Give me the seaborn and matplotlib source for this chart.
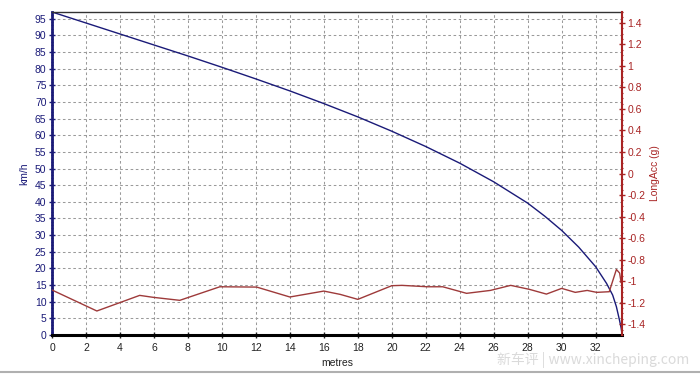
import matplotlib
matplotlib.use("Agg")
import matplotlib.pyplot as plt
import seaborn as sns
from matplotlib.ticker import MultipleLocator, FormatStrFormatter
from matplotlib.lines import Line2D

# Speed trace (km/h) vs distance (m)
dist_speed = [0, 2, 4, 6, 8, 10, 12, 14, 16, 18, 20, 22, 24, 26, 28, 29, 30, 31,
              32, 32.64, 33.0, 33.22, 33.4, 33.5, 33.55]
speed_kmh = [97.0, 93.7, 90.4, 87.1, 83.8, 80.4, 76.9, 73.3, 69.5, 65.5, 61.2, 56.6,
             51.6, 46.0, 39.6, 35.7, 31.4, 26.4, 20.5, 15.5, 12.0, 8.5, 4.5, 2.1, 0.3]

# Longitudinal acceleration (g) vs distance (m)
dist_acc = [0, 2.64, 3.98, 5.16, 5.95, 7.52, 9.88, 12.05, 14.0, 16.0, 16.97, 18.0,
            20.0, 20.6, 22.1, 23.0, 24.4, 25.8, 27.0, 28.1, 29.1, 30.0, 30.8, 31.5,
            32.06, 32.8, 33.22, 33.41, 33.5, 33.54, 33.55, 33.55, 33.55]
acc_g = [-1.082, -1.277, -1.200, -1.132, -1.150, -1.178, -1.052, -1.055, -1.147,
         -1.092, -1.123, -1.169, -1.042, -1.039, -1.052, -1.052, -1.113, -1.086,
         -1.039, -1.076, -1.120, -1.067, -1.104, -1.086, -1.104, -1.098, -0.891,
         -0.925, -1.014, -1.0, -0.55, -0.98, -0.62]

sns.set_style("white")
plt.rcParams['font.family'] = ['Liberation Sans', 'DejaVu Sans']
plt.rcParams['axes.unicode_minus'] = False

navy = "#1a1a78"
darkred = "#a82424"
accred = "#9e3a3a"

fig = plt.figure(figsize=(7, 3.76), dpi=100)
ax = fig.add_axes([52 / 700, 1 - 335 / 376, 570 / 700, 323 / 376])
ax2 = ax.twinx()

sns.lineplot(x=dist_speed, y=speed_kmh, ax=ax, color=navy, linewidth=1.0,
             estimator=None, sort=False)
sns.lineplot(x=dist_acc, y=acc_g, ax=ax2, color=accred, linewidth=1.0,
             estimator=None, sort=False)

ax.set_xlim(0, 33.55)
ax.set_ylim(0, 97)
ax2.set_ylim(-1.5, 1.5)

ax.xaxis.set_major_locator(MultipleLocator(2))
ax.xaxis.set_minor_locator(MultipleLocator(0.5))
ax.yaxis.set_major_locator(MultipleLocator(5))
ax.yaxis.set_minor_locator(MultipleLocator(1))
ax2.yaxis.set_major_locator(MultipleLocator(0.2))
ax2.yaxis.set_minor_locator(MultipleLocator(0.05))
ax2.yaxis.set_major_formatter(FormatStrFormatter('%g'))

ax.grid(True, which='major', color='#9a9a9a', linestyle=(0, (2.5, 2.5)), linewidth=0.75)
ax2.grid(False)

ax.tick_params(axis='y', which='major', colors=navy, labelsize=7.5, length=4,
               width=1, direction='inout', pad=2)
ax.tick_params(axis='y', which='minor', colors=navy, length=2, width=0.8,
               direction='inout', left=True)
ax.tick_params(axis='x', which='major', colors='#222222', labelsize=7.5, length=4,
               width=1, direction='inout', pad=4, bottom=True)
ax.tick_params(axis='x', which='minor', colors='#222222', length=2, width=0.8,
               direction='inout', bottom=True)
ax2.tick_params(axis='y', which='major', colors=darkred, labelsize=7.5, length=4,
                width=1, direction='inout', pad=2, right=True)
ax2.tick_params(axis='y', which='minor', colors=darkred, length=2, width=0.8,
                direction='inout', right=True)

for a in (ax, ax2):
    for s in a.spines.values():
        s.set_visible(True)
ax.spines['left'].set_color(navy)
ax.spines['left'].set_linewidth(2.0)
ax.spines['bottom'].set_color('black')
ax.spines['bottom'].set_linewidth(2.2)
ax.spines['top'].set_color('#333333')
ax.spines['top'].set_linewidth(1.0)
ax2.spines['right'].set_color(darkred)
ax2.spines['right'].set_linewidth(1.5)
ax2.spines['left'].set_visible(False)
ax2.spines['bottom'].set_visible(False)
ax2.spines['top'].set_visible(False)
ax.spines['right'].set_visible(False)

ax.set_xlabel("metres", fontsize=7.5, color='#222222', labelpad=3)
ax.set_ylabel("km/h", fontsize=7.5, color=navy, labelpad=4)
ax2.set_ylabel("LongAcc (g)", fontsize=7.5, color=darkred, labelpad=3)

# bottom frame line and watermark
fig.add_artist(Line2D([0, 1], [4 / 376, 4 / 376], color='#b0b0b0', linewidth=1.5,
                      transform=fig.transFigure))
fig.text(0.985, 16 / 376, "新车评 | www.xincheping.com", ha='right', va='center',
         fontsize=10, color='#dadada',
         family=['Noto Sans CJK SC', 'DejaVu Sans'])

fig.savefig("out.png", dpi=100)
